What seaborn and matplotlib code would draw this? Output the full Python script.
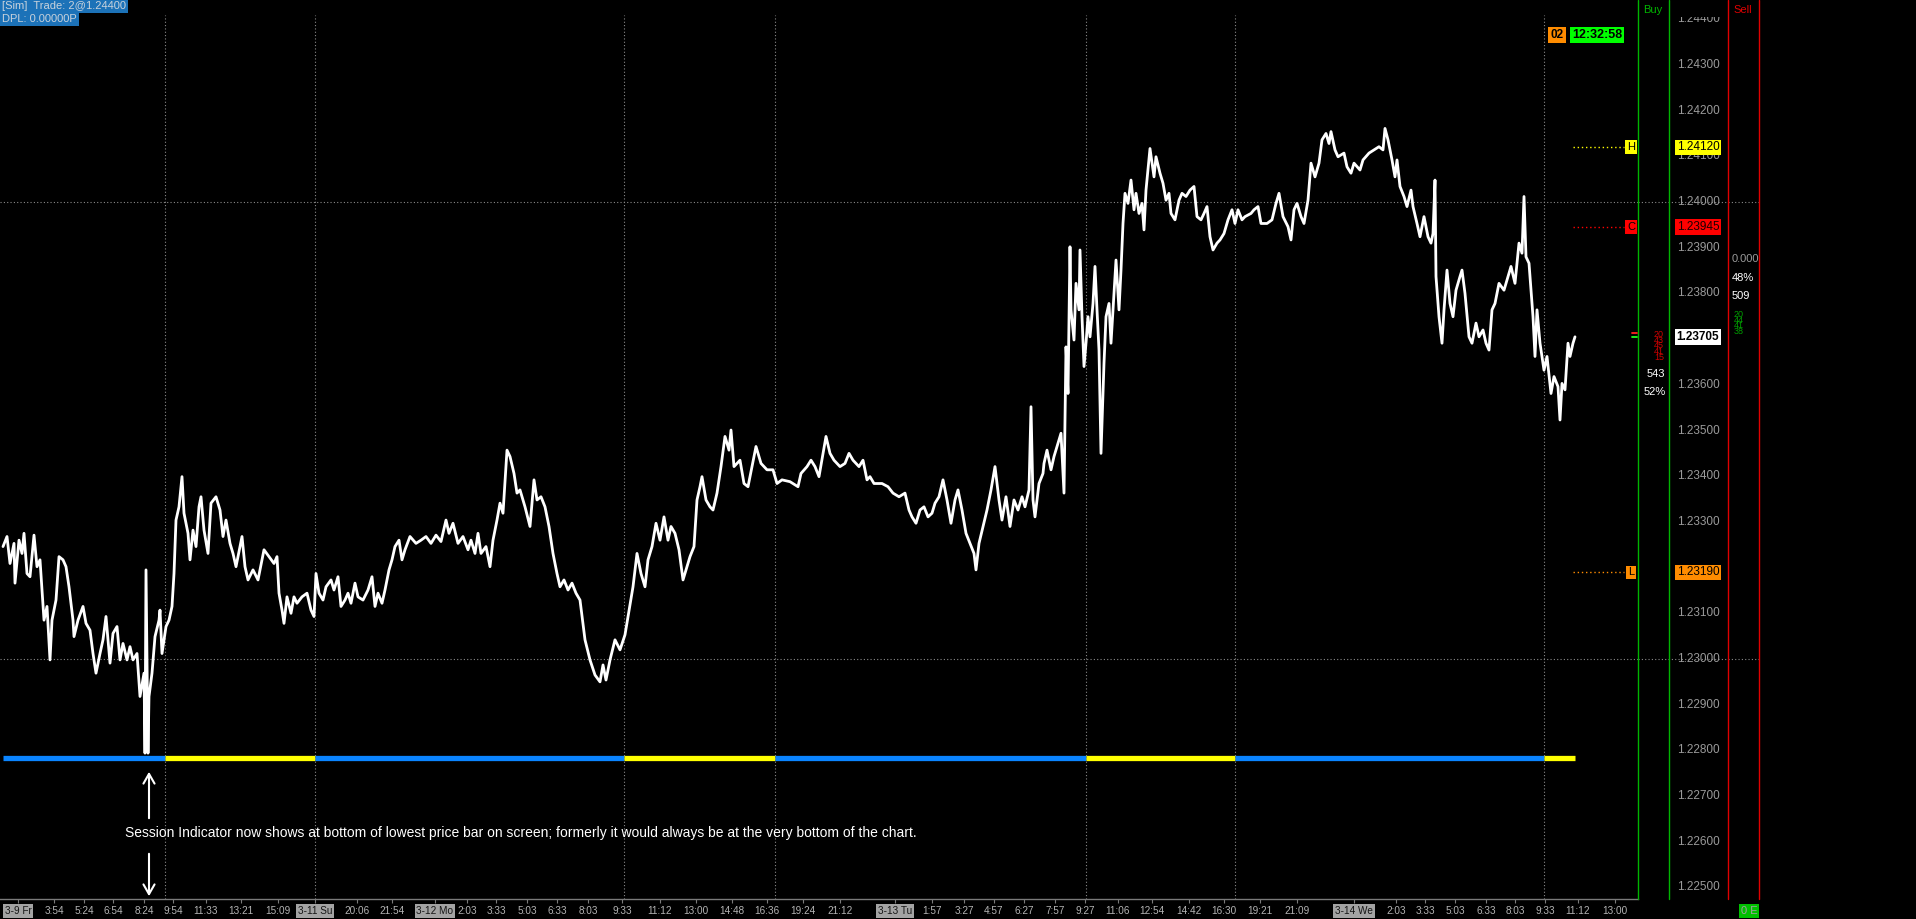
import matplotlib
matplotlib.use('Agg')
import matplotlib.pyplot as plt
import seaborn as sns

# bar number along the time axis and the close of each bar
bar_no = [
    3, 7, 10, 14, 15, 19, 22, 24, 27, 30, 34, 37, 40, 42, 44, 47, 50, 52, 56, 59,
    63, 66, 69, 73, 74, 78, 83, 86, 90, 93, 96, 100, 103, 106, 110, 113, 117, 120, 123, 127,
    130, 133, 137, 139, 140, 144, 145, 146, 148, 149, 152, 155, 159, 160, 162, 166, 169, 172, 174, 176,
    179, 182, 184, 188, 190, 193, 196, 199, 201, 204, 208, 211, 216, 220, 223, 226, 230, 233, 236, 242,
    245, 248, 253, 258, 264, 269, 274, 277, 279, 282, 284, 287, 291, 294, 297, 302, 307, 311, 314, 316,
    319, 323, 326, 331, 334, 338, 341, 345, 348, 351, 355, 358, 363, 368, 372, 375, 378, 382, 385, 389,
    392, 395, 399, 402, 405, 410, 416, 421, 426, 431, 436, 441, 446, 449, 453, 458, 463, 468, 471, 475,
    478, 481, 486, 490, 493, 497, 500, 503, 507, 510, 514, 517, 520, 525,
    530, 534, 537, 541, 545, 549, 553, 557, 560, 564, 568, 572, 576, 580, 585, 590, 595, 600, 603, 606,
    610, 615, 620, 625, 633, 637, 641, 645, 648, 652, 656, 660, 664, 668, 671, 675, 679, 683, 687, 690,
    694, 697, 700, 702, 706, 710, 713, 717, 721, 725, 729, 731, 734, 740, 744, 748, 752, 756, 761, 767,
    773, 777, 782, 790, 798, 801, 807, 811, 815, 819, 823, 826, 830, 834, 840, 845, 849, 853, 859, 863,
    867, 870, 874, 882, 888, 893, 899, 905, 909, 912, 916, 920, 924, 928, 932, 935, 939, 943, 947, 951,
    955, 958, 962, 966, 970, 974, 976, 979, 983, 987, 991, 995, 999, 1002, 1006, 1010, 1014, 1018, 1022, 1025,
    1029, 1031, 1033, 1035, 1039, 1043,
    1044, 1047, 1051, 1054, 1058, 1061, 1064, 1066, 1068, 1070, 1071, 1074, 1076, 1079, 1080, 1082, 1084, 1086, 1088, 1090,
    1093, 1095, 1097, 1099, 1101, 1104, 1106, 1109, 1111, 1113, 1116, 1119, 1121, 1123, 1125, 1128, 1131, 1134, 1136, 1139,
    1142, 1144, 1146, 1150, 1154, 1156, 1160, 1163, 1166, 1169, 1171, 1175, 1179, 1182, 1186, 1190, 1194, 1197, 1201, 1204,
    1207, 1210, 1213, 1217, 1220, 1224, 1228, 1232, 1235, 1238, 1242, 1245, 1251, 1254, 1258, 1261, 1267, 1272, 1276, 1279,
    1283, 1288, 1291, 1294, 1297, 1301, 1304, 1308, 1311, 1315, 1319, 1322, 1326, 1329, 1331, 1335, 1338, 1344, 1347, 1351,
    1354, 1360, 1363, 1369, 1374, 1379, 1383, 1385, 1388, 1392, 1395, 1397, 1400, 1404, 1407, 1411, 1413, 1417, 1420, 1424,
    1428, 1431, 1433, 1435, 1436, 1439, 1442, 1444, 1447, 1450, 1453, 1456, 1460, 1462, 1465, 1469, 1472, 1476, 1479, 1483,
    1486, 1489, 1492, 1495, 1499, 1504, 1508, 1511, 1515, 1519, 1522, 1524, 1526, 1529, 1533, 1535, 1537, 1540, 1544, 1547,
    1551, 1554, 1558, 1560, 1562, 1565, 1568, 1570, 1573, 1575,
]
close = [
    1.23246, 1.23268, 1.23209, 1.23253, 1.23166, 1.23260, 1.23231, 1.23275, 1.23187, 1.23180,
    1.23271, 1.23202, 1.23217, 1.23151, 1.23085, 1.23115, 1.22998, 1.23085, 1.23129, 1.23224,
    1.23217, 1.23202, 1.23158, 1.23085, 1.23049, 1.23085, 1.23115, 1.23078, 1.23063, 1.23012,
    1.22969, 1.23012, 1.23042, 1.23093, 1.22991, 1.23056, 1.23071, 1.22998, 1.23034, 1.22998,
    1.23027, 1.22998, 1.23012, 1.22947, 1.22918, 1.22969, 1.22794, 1.23195, 1.22794, 1.22918,
    1.22969, 1.23049, 1.23085, 1.23107, 1.23012, 1.23071, 1.23085, 1.23115, 1.23187, 1.23304,
    1.23333, 1.23399, 1.23319, 1.23275, 1.23217, 1.23282, 1.23246, 1.23333, 1.23355, 1.23282,
    1.23231, 1.23341, 1.23355, 1.23326, 1.23268, 1.23304, 1.23253, 1.23231, 1.23202, 1.23268,
    1.23202, 1.23173, 1.23195, 1.23173, 1.23239, 1.23224, 1.23209, 1.23224, 1.23144, 1.23107,
    1.23078, 1.23136, 1.23100, 1.23136, 1.23122, 1.23136, 1.23144, 1.23107, 1.23093, 1.23187,
    1.23144, 1.23129, 1.23158, 1.23173, 1.23151, 1.23180, 1.23115, 1.23129, 1.23144, 1.23122,
    1.23166, 1.23136, 1.23129, 1.23151, 1.23180, 1.23115, 1.23144, 1.23122, 1.23151, 1.23195,
    1.23217, 1.23246, 1.23260, 1.23217, 1.23239, 1.23268, 1.23253, 1.23260, 1.23268, 1.23253,
    1.23271, 1.23257, 1.23304, 1.23275, 1.23297, 1.23253, 1.23268, 1.23239, 1.23260, 1.23231,
    1.23275, 1.23231, 1.23246, 1.23202, 1.23260, 1.23304, 1.23341, 1.23319, 1.23457, 1.23443,
    1.23406, 1.23363, 1.23370, 1.23333,
    1.23290, 1.23392, 1.23348, 1.23355, 1.23333, 1.23290, 1.23231, 1.23187, 1.23158, 1.23173,
    1.23151, 1.23166, 1.23144, 1.23129, 1.23042, 1.22998, 1.22965, 1.22950, 1.22987, 1.22954,
    1.22998, 1.23042, 1.23020, 1.23053, 1.23158, 1.23231, 1.23187, 1.23158, 1.23217, 1.23246,
    1.23297, 1.23260, 1.23311, 1.23260, 1.23290, 1.23275, 1.23239, 1.23173, 1.23202, 1.23224,
    1.23246, 1.23348, 1.23377, 1.23399, 1.23348, 1.23333, 1.23326, 1.23363, 1.23421, 1.23487,
    1.23457, 1.23501, 1.23421, 1.23435, 1.23384, 1.23377, 1.23421, 1.23465, 1.23428, 1.23414,
    1.23414, 1.23384, 1.23392, 1.23388, 1.23377, 1.23406, 1.23421, 1.23435, 1.23421, 1.23399,
    1.23450, 1.23487, 1.23450, 1.23435, 1.23421, 1.23428, 1.23450, 1.23435, 1.23421, 1.23435,
    1.23392, 1.23399, 1.23384, 1.23384, 1.23377, 1.23363, 1.23355, 1.23363, 1.23326, 1.23311,
    1.23297, 1.23326, 1.23333, 1.23311, 1.23319, 1.23341, 1.23355, 1.23392, 1.23348, 1.23297,
    1.23348, 1.23370, 1.23326, 1.23275, 1.23253, 1.23231, 1.23195, 1.23253, 1.23290, 1.23326,
    1.23370, 1.23421, 1.23348, 1.23304, 1.23355, 1.23290, 1.23348, 1.23326, 1.23355, 1.23333,
    1.23370, 1.23552, 1.23348, 1.23311, 1.23384, 1.23406,
    1.23428, 1.23457, 1.23414, 1.23443, 1.23472, 1.23494, 1.23363, 1.23683, 1.23581, 1.23902,
    1.23764, 1.23698, 1.23822, 1.23764, 1.23895, 1.23749, 1.23640, 1.23691, 1.23749, 1.23705,
    1.23778, 1.23859, 1.23764, 1.23676, 1.23450, 1.23647, 1.23749, 1.23778, 1.23691, 1.23764,
    1.23873, 1.23764, 1.23851, 1.23953, 1.24019, 1.23997, 1.24048, 1.23983, 1.24019, 1.23975,
    1.23997, 1.23939, 1.24026, 1.24117, 1.24055, 1.24099, 1.24063, 1.24041, 1.24004, 1.24019,
    1.23975, 1.23961, 1.24004, 1.24019, 1.24012, 1.24026, 1.24034, 1.23968, 1.23961, 1.23975,
    1.23990, 1.23924, 1.23895, 1.23910, 1.23917, 1.23931, 1.23961, 1.23983, 1.23953, 1.23983,
    1.23961, 1.23968, 1.23975, 1.23983, 1.23990, 1.23953, 1.23953, 1.23961, 1.23997, 1.24019,
    1.23968, 1.23946, 1.23917, 1.23983, 1.23997, 1.23968, 1.23953, 1.24004, 1.24085, 1.24055,
    1.24085, 1.24136, 1.24150, 1.24128, 1.24154, 1.24114, 1.24099, 1.24107, 1.24077, 1.24063,
    1.24085, 1.24070, 1.24092, 1.24107, 1.24114, 1.24121, 1.24114, 1.24161, 1.24136, 1.24092,
    1.24055, 1.24092, 1.24034, 1.24012, 1.23990, 1.24026, 1.23990, 1.23953, 1.23924, 1.23968,
    1.23924, 1.23910, 1.23931, 1.24048, 1.23837, 1.23749, 1.23691, 1.23764, 1.23851, 1.23778,
    1.23749, 1.23807, 1.23837, 1.23851, 1.23800, 1.23705, 1.23691, 1.23735, 1.23705, 1.23720,
    1.23691, 1.23676, 1.23764, 1.23778, 1.23822, 1.23807, 1.23837, 1.23859, 1.23822, 1.23910,
    1.23888, 1.24012, 1.23880, 1.23866, 1.23749, 1.23662, 1.23764, 1.23691, 1.23632, 1.23662,
    1.23581, 1.23618, 1.23596, 1.23523, 1.23603, 1.23589, 1.23691, 1.23662, 1.23691, 1.23705,
]

time_tick_bars = [18, 54, 84, 113, 144, 173, 206, 241, 278, 315, 357, 392, 435, 467, 496, 527, 557, 588, 622,
                  660, 696, 732, 767, 803, 840, 895, 932, 964, 994, 1024, 1055, 1085, 1118, 1152, 1189, 1224,
                  1260, 1297, 1354, 1396, 1425, 1455, 1486, 1515, 1545, 1578, 1615]
time_tick_labels = ['3-9 Fr', '3:54', '5:24', '6:54', '8:24', '9:54', '11:33', '13:21', '15:09', '3-11 Su',
                    '20:06', '21:54', '3-12 Mo', '2:03', '3:33', '5:03', '6:33', '8:03', '9:33',
                    '11:12', '13:00', '14:48', '16:36', '19:24', '21:12', '3-13 Tu', '1:57', '3:27', '4:57',
                    '6:27', '7:57', '9:27', '11:06', '12:54', '14:42', '16:30', '19:21', '21:09', '3-14 We',
                    '2:03', '3:33', '5:03', '6:33', '8:03', '9:33', '11:12', '13:00']

# session boundaries (bar numbers) and their indicator colours
session_breaks = [3, 165, 315, 624, 775, 1086, 1235, 1544, 1575]
session_colors = ['#0a84ff', '#ffff00', '#0a84ff', '#ffff00', '#0a84ff', '#ffff00', '#0a84ff', '#ffff00']

# 1.232 and 1.237 sit under the L box and the last price box, so they do not show
price_ticks = [1.225, 1.226, 1.227, 1.228, 1.229, 1.230, 1.231, 1.233, 1.234,
               1.235, 1.236, 1.238, 1.239, 1.240, 1.241, 1.242, 1.243, 1.244]
grid_prices = [1.230, 1.240]

level_names = ['H', 'C', 'L']
level_prices = [1.24120, 1.23945, 1.23190]
level_colors = ['#ffff00', '#ff0000', '#ff8c00']
last_price = 1.23705

# ---- layout (pixel based, figure is 1916 x 919) ----
W, H = 1916, 919
PX_PER_PRICE = 45700.0
y_lo = 1.23 - 240 / PX_PER_PRICE
y_hi = 1.23 + 659 / PX_PER_PRICE

sns.set_style('dark', {'axes.facecolor': 'black', 'figure.facecolor': 'black'})
plt.rcParams['font.family'] = ['Liberation Sans', 'DejaVu Sans']

fig = plt.figure(figsize=(W / 100, H / 100), dpi=100)
fig.patch.set_facecolor('black')

ax = fig.add_axes([0, 20 / H, 1638 / W, 899 / H])
ax.set_facecolor('black')
ax.set_xlim(0, 1638)
ax.set_ylim(y_lo, y_hi)

dot = (0, (1, 2))
for b in session_breaks[1:-1]:
    ax.axvline(b, ymin=0, ymax=(899 - 15) / 899, color='#8a8a8a', lw=0.8, ls=dot)
for g in grid_prices:
    ax.axhline(g, color='#8a8a8a', lw=0.8, ls=dot)

sns.lineplot(x=bar_no, y=close, ax=ax, color='white', linewidth=2.0,
             estimator=None, sort=False, legend=False)

# session indicator sits just under the lowest price on screen
session_y = min(close) - 0.0001
for i, c in enumerate(session_colors):
    ax.plot([session_breaks[i], session_breaks[i + 1]], [session_y, session_y],
            color=c, lw=3.8, solid_capstyle='butt')

# H / C / L markers
for name, p, c in zip(level_names, level_prices, level_colors):
    ax.plot([1573, 1624], [p, p], color=c, lw=1, ls=dot)
    ax.text(1631, p, name, color='black', fontsize=8, ha='center', va='center',
            bbox=dict(facecolor=c, edgecolor='none', pad=1.2))

ax.set_xticks(time_tick_bars, time_tick_labels)
ax.set_yticks([])
ax.set_xlabel('')
ax.set_ylabel('')
ax.tick_params(axis='x', colors='#7a7a7a', labelcolor='#b4b4b4', labelsize=7.2,
               length=3, width=0.8, pad=2, direction='out', bottom=True)
for lbl in ax.get_xticklabels():
    if '-' in lbl.get_text():
        lbl.set_color('#151515')
        lbl.set_bbox(dict(facecolor='#a3a3a3', edgecolor='none', pad=1.2))
for s in ['top', 'left', 'right']:
    ax.spines[s].set_visible(False)
ax.spines['bottom'].set_color('#7a7a7a')
ax.spines['bottom'].set_linewidth(1)
ax.grid(False)

# price scale column
ax_p = fig.add_axes([1638 / W, 20 / H, 121 / W, 882 / H])
ax_p.set_xlim(1638, 1759)
ax_p.set_ylim(y_lo, 1.23 + 642 / PX_PER_PRICE)
ax_p.axis('off')
for g in grid_prices:
    ax_p.axhline(g, color='#8a8a8a', lw=0.8, ls=dot)
for t in price_ticks:
    ax_p.text(1698, t, f'{t:.5f}', color='#9a9a9a', fontsize=8.5, ha='center', va='center',
              clip_on=True, zorder=2)
for name, p, c in zip(level_names, level_prices, level_colors):
    ax_p.text(1698, p, f'{p:.5f}', color='#1a0000' if name == 'C' else 'black', fontsize=8.5,
              ha='center', va='center', zorder=3, bbox=dict(facecolor=c, edgecolor='none', pad=1.2))
ax_p.text(1698, last_price, f'{last_price:.5f}', color='black', fontsize=8.5, fontweight='bold',
          ha='center', va='center', zorder=3, bbox=dict(facecolor='white', edgecolor='none', pad=1.5))

# overlay in screen pixels for the platform furniture
ov = fig.add_axes([0, 0, 1, 1])
ov.set_xlim(0, W)
ov.set_ylim(H, 0)
ov.axis('off')

for x in [1638, 1669]:
    ov.plot([x, x], [0, 899], color='#00b400', lw=1)
for x in [1728, 1759]:
    ov.plot([x, x], [0, 899], color='#e00000', lw=1)
ov.text(1653, 10, 'Buy', color='#00b400', fontsize=8, ha='center', va='center')
ov.text(1743, 10, 'Sell', color='#e00000', fontsize=8, ha='center', va='center')

ov.text(2, 6, '[Sim]  Trade: 2@1.24400', color='#c8d2dc', fontsize=8, ha='left', va='center',
        bbox=dict(facecolor='#1c72b8', edgecolor='none', pad=1.5))
ov.text(2, 19, 'DPL: 0.00000P', color='#c8d2dc', fontsize=8, ha='left', va='center',
        bbox=dict(facecolor='#1c72b8', edgecolor='none', pad=1.5))

ov.text(1557, 35, '02', color='black', fontsize=8.5, fontweight='bold', ha='center', va='center',
        bbox=dict(facecolor='#ff8c00', edgecolor='none', pad=1.5))
ov.text(1597, 35, '12:32:58', color='black', fontsize=9, fontweight='bold', ha='center', va='center',
        bbox=dict(facecolor='#00ff00', edgecolor='none', pad=1.5))

ov.plot([1632, 1637], [333, 333], color='#ff2020', lw=1.3)
ov.plot([1632, 1637], [337, 337], color='#20ff20', lw=1.3)
# overprinted order-flow counters
ov.text(1659, 346, '20\n43\n45\n41\n15', color='#d00000', fontsize=6.5, ha='center', va='center',
        linespacing=0.55)
ov.text(1739, 323, '20\n44\n41\n38', color='#00a000', fontsize=6.5, ha='center', va='center',
        linespacing=0.55)

ov.text(1665, 374, '543', color='white', fontsize=8, ha='right', va='center')
ov.text(1666, 392, '52%', color='white', fontsize=8, ha='right', va='center')
ov.text(1732, 259, '0.000', color='#9a9a9a', fontsize=8, ha='left', va='center')
ov.text(1732, 278, '48%', color='white', fontsize=8, ha='left', va='center')
ov.text(1732, 296, '509', color='white', fontsize=8, ha='left', va='center')
ov.text(1749, 911, '0 E', color='#a0a0a0', fontsize=8, ha='center', va='center',
        bbox=dict(facecolor='#00c000', edgecolor='none', pad=1.5))

ov.annotate('', xy=(149, 769), xytext=(149, 821),
            arrowprops=dict(arrowstyle='->,head_length=0.7,head_width=0.4', color='white', lw=1.5))
ov.annotate('', xy=(149, 899), xytext=(149, 851),
            arrowprops=dict(arrowstyle='->,head_length=0.7,head_width=0.4', color='white', lw=1.5))
ov.text(125, 833, 'Session Indicator now shows at bottom of lowest price bar on screen; '
        'formerly it would always be at the very bottom of the chart.',
        color='white', fontsize=10, ha='left', va='center')

fig.savefig('out.png', dpi=100, facecolor='black')
